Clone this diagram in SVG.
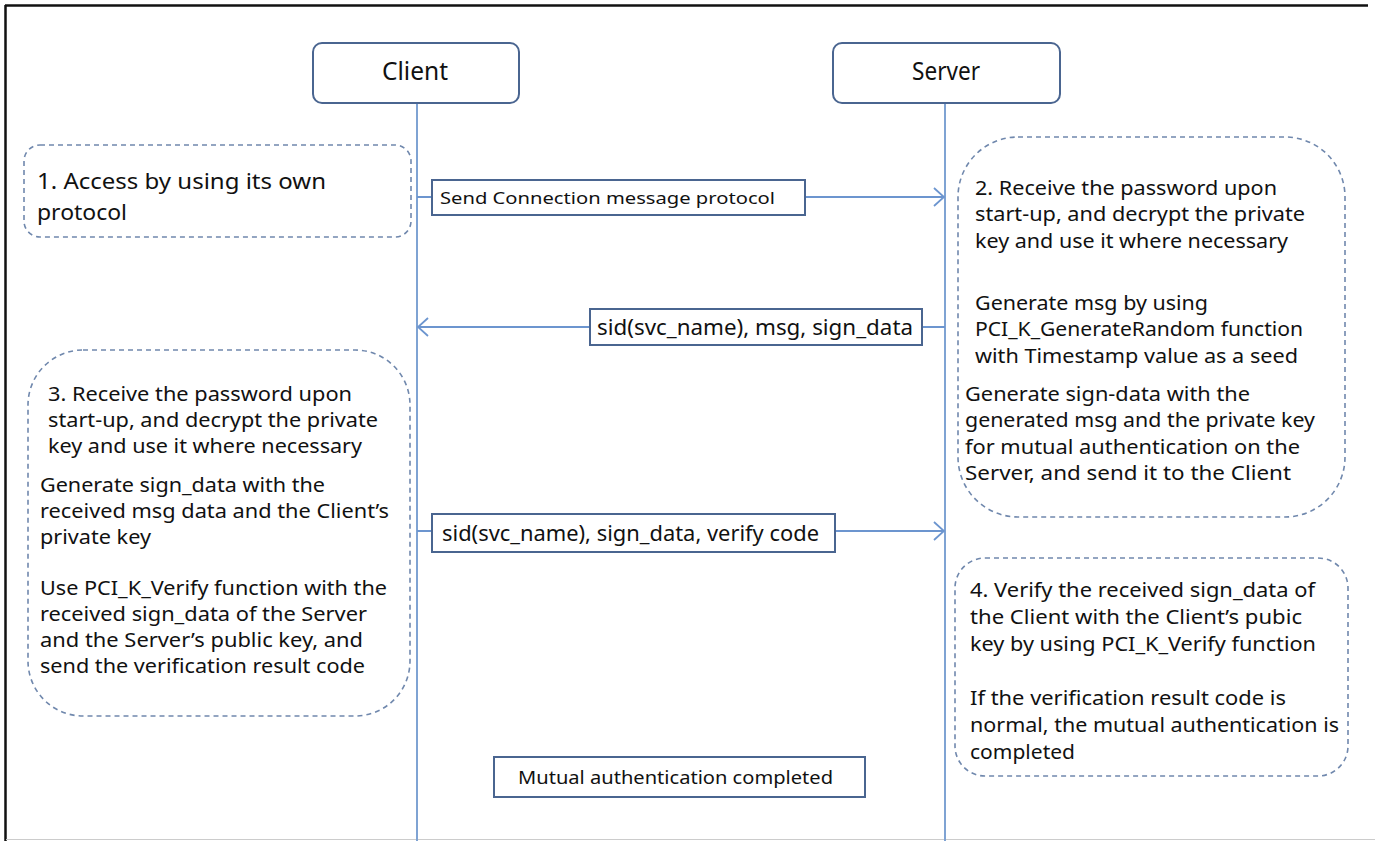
<svg xmlns="http://www.w3.org/2000/svg" width="1375" height="841" viewBox="0 0 1375 841">
<defs>
<style>
.t{font-family:"Noto Sans","Open Sans","Liberation Sans",sans-serif;fill:#111;}
.b{font-size:19px;}
.b21{font-size:21px;}
.hdr{fill:#fff;stroke:#4a6590;stroke-width:2;}
.lbl{fill:#fff;stroke:#4a6590;stroke-width:2;}
.dash{fill:#fff;stroke:#7088ad;stroke-width:1.6;stroke-dasharray:5 4;}
.life{stroke:#7fa3d3;stroke-width:2;fill:none;}
.msg{stroke:#6c95cf;stroke-width:1.8;fill:none;}
</style>
<marker id="arr" viewBox="0 0 12 20" refX="11" refY="10" markerWidth="12" markerHeight="20" markerUnits="userSpaceOnUse" orient="auto">
<path d="M1,1 L11,10 L1,19" fill="none" stroke="#6c95cf" stroke-width="1.8"/>
</marker>
</defs>
<rect x="0" y="0" width="1375" height="841" fill="#fff"/>
<g id="frame">
<line x1="5" y1="5.5" x2="1368" y2="5.5" stroke="#111" stroke-width="2.5"/>
<line x1="5.5" y1="5" x2="5.5" y2="841" stroke="#111" stroke-width="2.5"/>
<line x1="6" y1="839.5" x2="1375" y2="839.5" stroke="#ccc" stroke-width="1"/>
</g>
<g id="connectors">
<line class="life" x1="417" y1="103" x2="417" y2="841"/>
<line class="life" x1="945" y1="103" x2="945" y2="841"/>
<line class="msg" x1="417" y1="197" x2="944" y2="197" marker-end="url(#arr)"/>
<line class="msg" x1="945" y1="327" x2="418" y2="327" marker-end="url(#arr)"/>
<line class="msg" x1="417" y1="531" x2="944" y2="531" marker-end="url(#arr)"/>
</g>
<g id="client">
<rect class="hdr" x="313" y="43" width="206" height="60" rx="9"/>
<text class="t" x="415" y="80" font-size="25" text-anchor="middle" textLength="66" lengthAdjust="spacingAndGlyphs">Client</text>
</g>
<g id="server">
<rect class="hdr" x="833" y="43" width="227" height="60" rx="9"/>
<text class="t" x="946" y="80" font-size="25" text-anchor="middle" textLength="68" lengthAdjust="spacingAndGlyphs">Server</text>
</g>
<g id="step1">
<rect class="dash" x="24" y="145" width="387" height="92" rx="16"/>
<text class="t b21"><tspan x="37" y="189" textLength="289" lengthAdjust="spacingAndGlyphs">1. Access by using its own</tspan><tspan x="37" y="220" textLength="90" lengthAdjust="spacingAndGlyphs">protocol</tspan></text>
</g>
<g id="msg1">
<rect class="lbl" x="432" y="180" width="373" height="35"/>
<text class="t" x="440" y="204" font-size="17" textLength="335" lengthAdjust="spacingAndGlyphs">Send Connection message protocol</text>
</g>
<g id="step2">
<rect class="dash" x="958" y="137" width="387" height="380" rx="60"/>
<text class="t b">
<tspan x="975" y="195" textLength="302" lengthAdjust="spacingAndGlyphs">2. Receive the password upon</tspan>
<tspan x="975" y="221" textLength="330" lengthAdjust="spacingAndGlyphs">start-up, and decrypt the private</tspan>
<tspan x="975" y="248" textLength="313" lengthAdjust="spacingAndGlyphs">key and use it where necessary</tspan>
<tspan x="975" y="310" textLength="233" lengthAdjust="spacingAndGlyphs">Generate msg by using</tspan>
<tspan x="975" y="336" textLength="328" lengthAdjust="spacingAndGlyphs">PCI_K_GenerateRandom function</tspan>
<tspan x="975" y="363" textLength="323" lengthAdjust="spacingAndGlyphs">with Timestamp value as a seed</tspan>
<tspan x="965" y="401" textLength="285" lengthAdjust="spacingAndGlyphs">Generate sign-data with the</tspan>
<tspan x="965" y="427" textLength="350" lengthAdjust="spacingAndGlyphs">generated msg and the private key</tspan>
<tspan x="965" y="454" textLength="335" lengthAdjust="spacingAndGlyphs">for mutual authentication on the</tspan>
<tspan x="965" y="480" textLength="326" lengthAdjust="spacingAndGlyphs">Server, and send it to the Client</tspan>
</text>
</g>
<g id="msg2">
<rect class="lbl" x="590" y="309" width="332" height="36"/>
<text class="t b21" x="597" y="335" textLength="316" lengthAdjust="spacingAndGlyphs">sid(svc_name), msg, sign_data</text>
</g>
<g id="step3">
<rect class="dash" x="28" y="350" width="382" height="366" rx="55"/>
<text class="t b">
<tspan x="48" y="401" textLength="304" lengthAdjust="spacingAndGlyphs">3. Receive the password upon</tspan>
<tspan x="48" y="427" textLength="330" lengthAdjust="spacingAndGlyphs">start-up, and decrypt the private</tspan>
<tspan x="48" y="453" textLength="314" lengthAdjust="spacingAndGlyphs">key and use it where necessary</tspan>
<tspan x="40" y="492" textLength="285" lengthAdjust="spacingAndGlyphs">Generate sign_data with the</tspan>
<tspan x="40" y="518" textLength="349" lengthAdjust="spacingAndGlyphs">received msg data and the Client’s</tspan>
<tspan x="40" y="544" textLength="111" lengthAdjust="spacingAndGlyphs">private key</tspan>
<tspan x="40" y="595" textLength="347" lengthAdjust="spacingAndGlyphs">Use PCI_K_Verify function with the</tspan>
<tspan x="40" y="621" textLength="327" lengthAdjust="spacingAndGlyphs">received sign_data of the Server</tspan>
<tspan x="40" y="647" textLength="323" lengthAdjust="spacingAndGlyphs">and the Server’s public key, and</tspan>
<tspan x="40" y="673" textLength="325" lengthAdjust="spacingAndGlyphs">send the verification result code</tspan>
</text>
</g>
<g id="msg3">
<rect class="lbl" x="432" y="514" width="403" height="38"/>
<text class="t b21" x="442" y="541" textLength="377" lengthAdjust="spacingAndGlyphs">sid(svc_name), sign_data, verify code</text>
</g>
<g id="step4">
<rect class="dash" x="955" y="558" width="393" height="218" rx="30"/>
<text class="t b">
<tspan x="970" y="597" textLength="345" lengthAdjust="spacingAndGlyphs">4. Verify the received sign_data of</tspan>
<tspan x="970" y="624" textLength="332" lengthAdjust="spacingAndGlyphs">the Client with the Client’s pubic</tspan>
<tspan x="970" y="651" textLength="346" lengthAdjust="spacingAndGlyphs">key by using PCI_K_Verify function</tspan>
<tspan x="970" y="705" textLength="316" lengthAdjust="spacingAndGlyphs">If the verification result code is</tspan>
<tspan x="970" y="732" textLength="369" lengthAdjust="spacingAndGlyphs">normal, the mutual authentication is</tspan>
<tspan x="970" y="759" textLength="105" lengthAdjust="spacingAndGlyphs">completed</tspan>
</text>
</g>
<g id="done">
<rect class="lbl" x="494" y="757" width="371" height="40"/>
<text class="t" x="518" y="784" font-size="18" textLength="315" lengthAdjust="spacingAndGlyphs">Mutual authentication completed</text>
</g>
</svg>
